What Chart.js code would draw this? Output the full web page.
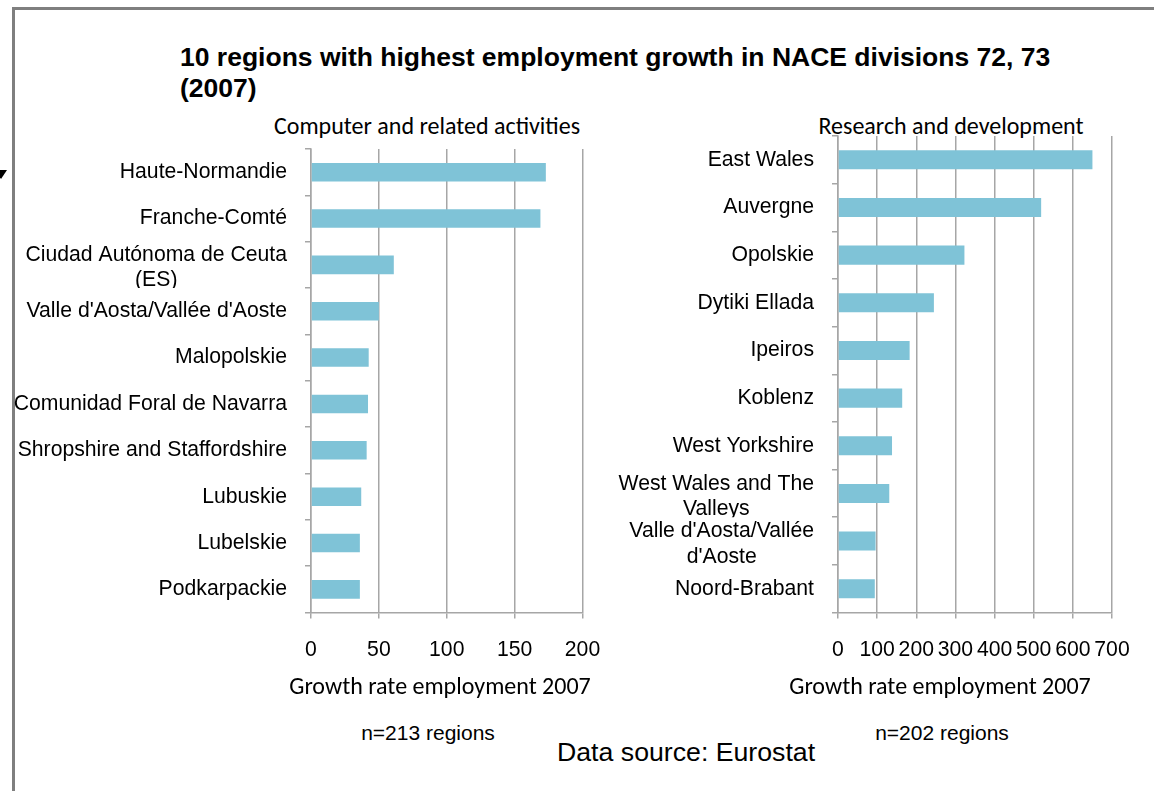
<!DOCTYPE html>
<html>
<head>
<meta charset="utf-8">
<script src="https://cdn.jsdelivr.net/npm/chart.js@4.4.0/dist/chart.umd.min.js"></script>
<style>
body { margin:0; width:1154px; height:791px; background:#fff; position:relative; overflow:hidden; font-family:'Liberation Sans', Arial, sans-serif; }
.frame { position:absolute; left:12px; top:7px; right:-10px; bottom:-10px; border-left:3px solid #7f7f7f; border-top:3px solid #7f7f7f; }
.tri { position:absolute; left:-5px; top:170px; width:0; height:0; border-left:6px solid transparent; border-right:6px solid transparent; border-top:9px solid #000; }
.txt { position:absolute; white-space:nowrap; color:#000; }
.cal { font-family: Carlito, Calibri, Lato, sans-serif; font-size:24px; line-height:28px; }
.ar { font-size:21px; line-height:24px; }
canvas { position:absolute; }
</style>
</head>
<body>
<div class="frame"></div>
<div class="tri"></div>

<div class="txt" style="left:180px; top:42px; font-weight:bold; font-size:26.5px; line-height:31px;">10 regions with highest employment growth in NACE divisions 72, 73<br>(2007)</div>

<div class="txt cal" style="left:427px; top:112px; transform:translateX(-50%);">Computer and related activities</div>
<div class="txt cal" style="left:951px; top:112px; transform:translateX(-50%);">Research and development</div>

<canvas id="esq" width="600" height="542" style="left:8px; top:140px;"></canvas>
<canvas id="dir" width="574" height="554" style="left:560px; top:128px;"></canvas>

<div class="txt cal" style="left:440px; top:672px; transform:translateX(-50%);">Growth rate employment 2007</div>
<div class="txt cal" style="left:940px; top:672px; transform:translateX(-50%);">Growth rate employment 2007</div>

<div class="txt ar" style="left:428px; top:721px; transform:translateX(-50%);">n=213 regions</div>
<div class="txt ar" style="left:942px; top:721px; transform:translateX(-50%);">n=202 regions</div>

<div class="txt" style="left:557px; top:737px; font-size:26.7px; line-height:30px;">Data source: Eurostat</div>

<script>
// Computer and related activities (NACE 72)
var regioesInfo = ['Haute-Normandie', 'Franche-Comté', ['Ciudad Autónoma de Ceuta', '(ES)'],
    "Valle d'Aosta/Vallée d'Aoste", 'Malopolskie', 'Comunidad Foral de Navarra',
    'Shropshire and Staffordshire', 'Lubuskie', 'Lubelskie', 'Podkarpackie'];
var valoresInfo = [173, 169, 61, 50, 42.5, 42, 41, 37, 36, 36];
var ticksInfo = [0, 50, 100, 150, 200];

// Research and development (NACE 73)
var regioesPD = ['East Wales', 'Auvergne', 'Opolskie', 'Dytiki Ellada', 'Ipeiros', 'Koblenz',
    'West Yorkshire', ['West Wales and The', 'Valleys'], ["Valle d'Aosta/Vallée", "d'Aoste"], 'Noord-Brabant'];
var valoresPD = [650, 519, 323, 245, 183, 164, 138, 131, 96, 94];
var ticksPD = [0, 100, 200, 300, 400, 500, 600, 700];

var fonte = { family: "'Liberation Sans', Arial, sans-serif", size: 21.2 };
var cinza = '#a6a6a6';

// rotulos das regioes: linhas multiplas centradas e cortadas na divisa da categoria (como no Excel)
var rotulosRegioes = {
    id: 'rotulosRegioes',
    afterDraw: function (chart) {
        var s = chart.scales.y;
        var c = chart.ctx;
        var meio = Math.abs(s.getPixelForTick(1) - s.getPixelForTick(0)) / 2;
        c.save();
        c.font = fonte.size + 'px ' + fonte.family;
        c.fillStyle = '#000';
        c.textBaseline = 'middle';
        chart.data.labels.forEach(function (lab, i) {
            var y = s.getPixelForTick(i);
            var x = s.right - 24;
            if (!Array.isArray(lab)) {
                c.textAlign = 'right';
                c.fillText(lab, x, y);
                return;
            }
            var larg = Math.max.apply(null, lab.map(function (l) { return c.measureText(l).width; }));
            c.save();
            c.beginPath();
            c.rect(0, y - meio, s.right, 2 * meio);
            c.clip();
            c.textAlign = 'center';
            lab.forEach(function (l, k) {
                c.fillText(l, x - larg / 2, y + 3 + (k - (lab.length - 1) / 2) * 25.4);
            });
            c.restore();
        });
        c.restore();
    }
};

graficoBarras('esq', regioesInfo, valoresInfo, ticksInfo, 303, 9, 25.5);
graficoBarras('dir', regioesPD, valoresPD, ticksPD, 278, 8, 22);

function graficoBarras(id, labels, valores, ticks, larguraEixo, padTop, padRight) {
    var ctx = document.getElementById(id).getContext('2d');
    var chart = new Chart(ctx, {
        type: 'bar',
        data: {
            labels: labels,
            datasets: [{
                data: valores,
                backgroundColor: '#7fc3d7',
                borderWidth: 0,
                barPercentage: 0.4,
                categoryPercentage: 1
            }]
        },
        plugins: [rotulosRegioes],
        options: {
            indexAxis: 'y',
            responsive: false,
            animation: false,
            layout: { padding: { top: padTop, right: padRight, bottom: 0, left: 0 } },
            plugins: {
                legend: { display: false },
                tooltip: { enabled: false }
            },
            scales: {
                x: {
                    min: ticks[0],
                    max: ticks[ticks.length - 1],
                    ticks: {
                        stepSize: ticks[1] - ticks[0],
                        autoSkip: false,
                        maxRotation: 0,
                        minRotation: 0,
                        padding: 19,
                        color: '#000',
                        font: fonte
                    },
                    grid: { color: cinza, lineWidth: 1.5, tickLength: 6 },
                    border: { color: cinza, width: 1.5 },
                    // o layout usa so o padding do options.layout
                    afterFit: function (scale) { scale.paddingLeft = 0; scale.paddingRight = 0; }
                },
                y: {
                    ticks: { display: false },
                    grid: { drawOnChartArea: false, color: cinza, lineWidth: 1.5, tickLength: 6 },
                    border: { color: cinza, width: 1.5 },
                    afterFit: function (scale) {
                        scale.width = larguraEixo;
                        scale.paddingTop = 0;
                        scale.paddingBottom = 0;
                    }
                }
            }
        }
    });
    return chart;
}
</script>
</body>
</html>
